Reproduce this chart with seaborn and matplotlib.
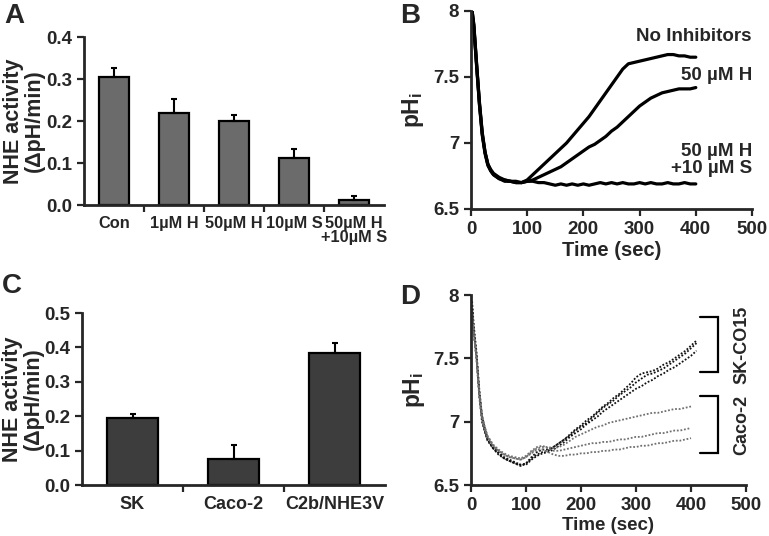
import numpy as np
import pandas as pd
import matplotlib
matplotlib.use('Agg')
import matplotlib.pyplot as plt
import seaborn as sns

sns.set_style('ticks')
plt.rcParams['font.family'] = ['Liberation Sans', 'DejaVu Sans']
plt.rcParams['font.weight'] = 'bold'
plt.rcParams['axes.labelweight'] = 'bold'
plt.rcParams['mathtext.fontset'] = 'custom'
plt.rcParams['mathtext.rm'] = 'Liberation Sans:bold'
plt.rcParams['mathtext.it'] = 'Liberation Sans:bold'
plt.rcParams['mathtext.bf'] = 'Liberation Sans:bold'

# panel A - inhibitor bars
a_labels = ['Con', '1µM H', '50µM H', '10µM S', '50µM H\n+10µM S']
a_values = [0.305, 0.218, 0.201, 0.113, 0.012]
a_errors = [0.022, 0.034, 0.013, 0.020, 0.009]

# panel C - cell line bars
c_labels = ['SK', 'Caco-2', 'C2b/NHE3V']
c_values = [0.194, 0.077, 0.384]
c_errors = [0.013, 0.038, 0.030]

# panel B - pHi traces
time_b = [2, 5, 10, 15, 20, 25, 30, 35, 40, 50, 60, 70, 80, 90, 100,
          110, 120, 130, 140, 150, 160, 170, 180, 190, 200, 210, 220, 230, 240, 250,
          260, 270, 280, 290, 300, 310, 320, 330, 340, 350, 360, 370, 380, 390, 400]
no_inh = [8.00, 7.90, 7.60, 7.30, 7.07, 6.93, 6.84, 6.80, 6.77, 6.74, 6.72, 6.71, 6.71, 6.70, 6.72,
          6.76, 6.80, 6.84, 6.88, 6.92, 6.96, 7.00, 7.05, 7.10, 7.15, 7.20, 7.26, 7.32, 7.38, 7.44,
          7.50, 7.56, 7.60, 7.61, 7.62, 7.63, 7.64, 7.65, 7.66, 7.67, 7.67, 7.66, 7.66, 7.65, 7.65]
h50 = [7.99, 7.88, 7.58, 7.29, 7.06, 6.92, 6.83, 6.79, 6.76, 6.73, 6.71, 6.71, 6.70, 6.70, 6.71,
       6.72, 6.74, 6.76, 6.78, 6.80, 6.82, 6.85, 6.88, 6.91, 6.94, 6.97, 6.99, 7.02, 7.05, 7.09,
       7.12, 7.16, 7.20, 7.24, 7.28, 7.31, 7.34, 7.36, 7.38, 7.39, 7.40, 7.41, 7.41, 7.41, 7.42]
h50_s10 = [8.00, 7.89, 7.59, 7.31, 7.08, 6.93, 6.84, 6.79, 6.76, 6.73, 6.72, 6.71, 6.70, 6.70, 6.71,
           6.71, 6.70, 6.70, 6.69, 6.68, 6.69, 6.68, 6.69, 6.68, 6.69, 6.68, 6.69, 6.70, 6.69, 6.70,
           6.69, 6.70, 6.69, 6.69, 6.70, 6.69, 6.70, 6.69, 6.69, 6.70, 6.69, 6.69, 6.70, 6.69, 6.69]

# panel D - pHi traces per cell line
time_sk = [2, 5, 10, 15, 20, 25, 30, 40, 50, 60, 70, 80, 90, 100,
           110, 120, 130, 140, 150, 160, 170, 180, 190, 200, 210, 220, 230, 240, 250,
           260, 270, 280, 290, 300, 310, 320, 330, 340, 350, 360, 370, 380, 390, 400, 410]
sk1 = [7.95, 7.76, 7.55, 7.26, 7.05, 6.95, 6.87, 6.80, 6.76, 6.72, 6.70, 6.68, 6.66, 6.67,
       6.71, 6.74, 6.76, 6.77, 6.80, 6.83, 6.86, 6.90, 6.94, 6.97, 7.01, 7.04, 7.08, 7.12, 7.15,
       7.19, 7.22, 7.26, 7.30, 7.35, 7.38, 7.39, 7.40, 7.42, 7.45, 7.47, 7.50, 7.53, 7.56, 7.60, 7.64]
sk2 = [7.92, 7.72, 7.52, 7.22, 7.02, 6.93, 6.86, 6.79, 6.75, 6.71, 6.69, 6.67, 6.66, 6.66,
       6.70, 6.73, 6.75, 6.76, 6.78, 6.81, 6.84, 6.88, 6.91, 6.94, 6.98, 7.01, 7.04, 7.08, 7.11,
       7.14, 7.17, 7.20, 7.23, 7.26, 7.28, 7.31, 7.33, 7.36, 7.38, 7.41, 7.43, 7.46, 7.49, 7.52, 7.56]
sk3 = [7.88, 7.70, 7.50, 7.20, 7.00, 6.92, 6.85, 6.79, 6.74, 6.71, 6.69, 6.67, 6.65, 6.67,
       6.72, 6.76, 6.78, 6.78, 6.80, 6.83, 6.86, 6.89, 6.93, 6.96, 6.99, 7.03, 7.07, 7.11, 7.14,
       7.17, 7.21, 7.24, 7.27, 7.31, 7.34, 7.37, 7.38, 7.40, 7.42, 7.45, 7.48, 7.51, 7.54, 7.58, 7.62]
time_caco = [2, 5, 10, 15, 20, 25, 30, 40, 50, 60, 70, 80, 90, 100,
             110, 120, 130, 140, 150, 160, 170, 180, 190, 200, 210, 220, 230, 240, 250,
             260, 270, 280, 290, 300, 310, 320, 330, 340, 350, 360, 370, 380, 390, 400]
caco1 = [7.85, 7.70, 7.50, 7.22, 7.04, 6.95, 6.88, 6.81, 6.77, 6.74, 6.72, 6.71, 6.70, 6.72,
         6.76, 6.79, 6.80, 6.80, 6.79, 6.80, 6.82, 6.85, 6.88, 6.90, 6.92, 6.94, 6.96, 6.97, 6.99,
         7.00, 7.01, 7.02, 7.03, 7.04, 7.05, 7.06, 7.07, 7.07, 7.08, 7.09, 7.10, 7.10, 7.11, 7.12]
caco2 = [7.88, 7.72, 7.52, 7.24, 7.05, 6.96, 6.89, 6.82, 6.78, 6.75, 6.73, 6.72, 6.71, 6.73,
         6.77, 6.80, 6.81, 6.79, 6.77, 6.77, 6.78, 6.79, 6.80, 6.81, 6.82, 6.83, 6.83, 6.84, 6.84,
         6.85, 6.86, 6.86, 6.87, 6.88, 6.88, 6.89, 6.90, 6.91, 6.91, 6.92, 6.93, 6.93, 6.94, 6.95]
caco3 = [7.86, 7.71, 7.51, 7.23, 7.03, 6.94, 6.88, 6.81, 6.77, 6.74, 6.72, 6.71, 6.70, 6.72,
         6.75, 6.78, 6.78, 6.76, 6.74, 6.73, 6.73, 6.74, 6.74, 6.75, 6.75, 6.76, 6.76, 6.77, 6.77,
         6.78, 6.78, 6.79, 6.80, 6.80, 6.81, 6.81, 6.82, 6.83, 6.83, 6.84, 6.85, 6.85, 6.86, 6.87]

fig = plt.figure(figsize=(7.69, 5.36), dpi=100)
axA = fig.add_axes([84/769, 1-205/536, 300/769, 168/536])
axB = fig.add_axes([471/769, 1-209/536, 281/769, 198/536])
axC = fig.add_axes([82/769, 1-485/536, 303/769, 172/536])
axD = fig.add_axes([471/769, 1-485/536, 275/769, 190/536])

TICK = 13.5
LAB = 15.5


def style_axes(ax):
    sns.despine(ax=ax)
    for s in ['left', 'bottom']:
        ax.spines[s].set_linewidth(2)
    ax.tick_params(axis='both', which='both', direction='out', width=1.6, length=5,
                   labelsize=TICK)


def bar_panel(ax, labels, values, errors, color, ymax, step, label_x):
    df = pd.DataFrame({'cond': labels, 'val': values})
    sns.barplot(data=df, x='cond', y='val', color=color, width=0.5, edgecolor='black',
                linewidth=1.6, saturation=1, ax=ax, errorbar=None)
    ax.errorbar(range(len(values)), values, yerr=[np.zeros(len(values)), errors],
                fmt='none', ecolor='black', elinewidth=1.5, capsize=2.5, capthick=1.5)
    style_axes(ax)
    ax.set_xlim(-0.5, len(values) - 0.5)
    ax.set_ylim(0, ymax)
    ax.set_yticks(np.arange(0, ymax + 1e-9, step))
    ax.set_yticklabels(['%.1f' % v for v in np.arange(0, ymax + 1e-9, step)])
    ax.set_xticks(np.arange(0.5, len(values) - 0.5, 1), minor=True)
    ax.tick_params(axis='x', which='major', length=0, pad=8)
    ax.tick_params(axis='x', which='minor', length=5, width=1.6)
    ax.set_xlabel('')
    ax.set_ylabel('NHE activity\n(ΔpH/min)', fontsize=LAB, linespacing=1.0)
    ax.yaxis.set_label_coords(label_x, 0.5)


bar_panel(axA, a_labels, a_values, a_errors, '#6b6b6b', 0.4, 0.1, -0.13)
for t in axA.get_xticklabels():
    t.set_fontsize(11.8)
    t.set_linespacing(0.9)
bar_panel(axC, c_labels, c_values, c_errors, '#3d3d3d', 0.5, 0.1, -0.125)
for t in axC.get_xticklabels():
    t.set_fontsize(13)


def trace_axes(ax, xlab_size):
    style_axes(ax)
    ax.set_xlim(0, 500)
    ax.set_ylim(6.5, 8)
    ax.set_xticks([0, 100, 200, 300, 400, 500])
    ax.set_yticks([6.5, 7, 7.5, 8])
    ax.set_yticklabels(['6.5', '7', '7.5', '8'])
    ax.set_xlabel('Time (sec)', fontsize=xlab_size, labelpad=2)
    ax.set_ylabel(r'pH$_\mathregular{i}$', fontsize=16.5)
    ax.yaxis.set_label_coords(-0.16, 0.5)


for ys in [no_inh, h50, h50_s10]:
    sns.lineplot(x=time_b, y=ys, ax=axB, color='black', lw=2.3, sort=False, estimator=None)
trace_axes(axB, 14.5)
axB.text(500, 7.81, 'No Inhibitors', ha='right', va='center', fontsize=13.5)
axB.text(500, 7.51, '50 µM H', ha='right', va='center', fontsize=13.5)
axB.text(500, 6.87, '50 µM H\n+10 µM S', ha='right', va='center', fontsize=13.5,
         linespacing=0.95)

for ys in [sk1, sk2, sk3]:
    sns.lineplot(x=time_sk, y=ys, ax=axD, color='#111111', lw=1.3, ls=(0, (1, 1)),
                 sort=False, estimator=None)
for ys in [caco1, caco2, caco3]:
    sns.lineplot(x=time_caco, y=ys, ax=axD, color='#707070', lw=1.3, ls=(0, (1, 1)),
                 sort=False, estimator=None)
trace_axes(axD, 13.5)

# brackets for panel D
for y0, y1, txt in [(7.39, 7.83, 'SK-CO15'), (6.755, 7.20, 'Caco-2')]:
    axD.plot([416, 449, 449, 416], [y1, y1, y0, y0], color='black', lw=1.6,
             clip_on=False, solid_joinstyle='miter')
    axD.text(493, (y0 + y1) / 2, txt, rotation=90, ha='center', va='center',
             fontsize=13, clip_on=False)

for x, y, s in [(0.005, 0.995, 'A'), (0.52, 0.995, 'B'), (0.003, 0.49, 'C'), (0.52, 0.47, 'D')]:
    fig.text(x, y, s, fontsize=20, fontweight='bold', ha='left', va='top')

plt.savefig('out.png', dpi=100)
